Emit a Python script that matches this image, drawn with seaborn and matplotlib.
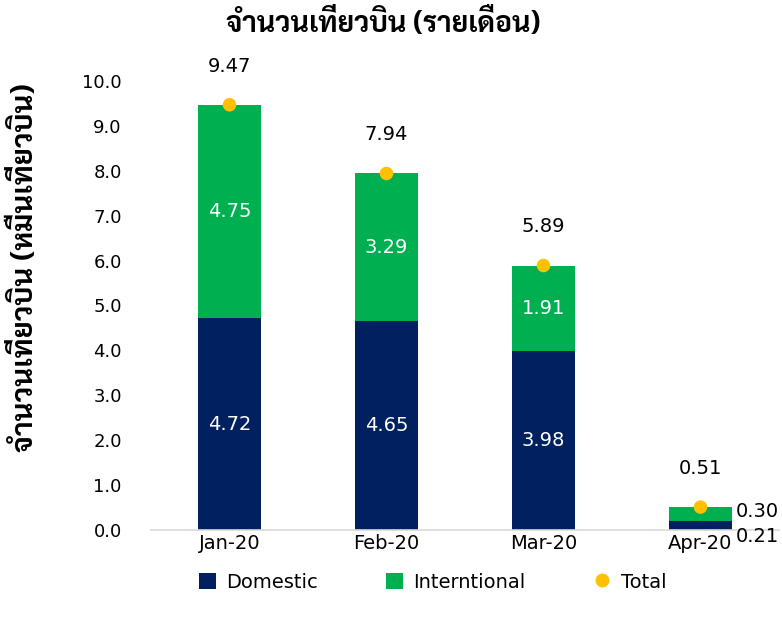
import matplotlib
matplotlib.use("Agg")
import matplotlib.pyplot as plt
import seaborn as sns
import pandas as pd
from matplotlib.lines import Line2D
from matplotlib.patches import Patch

months = ["Jan-20", "Feb-20", "Mar-20", "Apr-20"]
domestic = [4.72, 4.65, 3.98, 0.21]
international = [4.75, 3.29, 1.91, 0.30]
total = [9.47, 7.94, 5.89, 0.51]
yticks = [0, 1, 2, 3, 4, 5, 6, 7, 8, 9, 10]

title = "จำนวนเที่ยวบิน (รายเดือน)"
ylabel = "จำนวนเที่ยวบิน (หมื่นเที่ยวบิน)"
legend_labels = ["Domestic", "Interntional", "Total"]

NAVY = "#002060"
GREEN = "#00b050"
GOLD = "#ffc000"

sns.set_theme(style="white")
FAM = ["DejaVu Sans", "Sarabun"]
THAI = ["Sarabun", "DejaVu Sans"]
plt.rcParams["font.family"] = FAM
plt.rcParams["text.color"] = "black"
plt.rcParams["axes.labelcolor"] = "black"

df = pd.DataFrame({"month": months, "dom": domestic, "intl": international, "total": total})
df["stack"] = df["dom"] + df["intl"]

fig = plt.figure(figsize=(7.82, 6.22), dpi=100)
ax = fig.add_axes([0.1931, 0.1479, 0.8031, 0.7219])

sns.barplot(data=df, x="month", y="stack", color=GREEN, width=0.4, ax=ax,
            saturation=1, edgecolor="none")
sns.barplot(data=df, x="month", y="dom", color=NAVY, width=0.4, ax=ax,
            saturation=1, edgecolor="none")
sns.scatterplot(data=df, x="month", y="total", color=GOLD, s=95, ax=ax,
                edgecolor="none", zorder=5)

ax.set_xlim(-0.5, 3.5)
ax.set_ylim(0, 10)
ax.set_yticks(yticks)
ax.set_yticklabels([f"{v:.1f}" for v in yticks])
ax.tick_params(axis="both", length=0, colors="black")
ax.tick_params(axis="y", pad=21, labelsize=13)
ax.tick_params(axis="x", pad=3, labelsize=14)
for s in ["top", "right", "left"]:
    ax.spines[s].set_visible(False)
ax.spines["bottom"].set_color("#d9d9d9")
ax.spines["bottom"].set_linewidth(1.2)
ax.set_xlabel("")
ax.set_ylabel(ylabel, fontsize=21, fontweight="bold", family=THAI)
ax.yaxis.set_label_coords(-0.177, 0.584)

for i in range(len(months)):
    d, n, t = domestic[i], international[i], total[i]
    ax.text(i, t + 0.65, f"{t:.2f}", ha="center", va="bottom", fontsize=14, color="black")
    if i < 3:
        ax.text(i, d / 2, f"{d:.2f}", ha="center", va="center", fontsize=14, color="white")
        ax.text(i, d + n / 2, f"{n:.2f}", ha="center", va="center", fontsize=14, color="white")
    else:
        ax.text(i + 0.36, d + n / 2 + 0.05, f"{n:.2f}", ha="center", va="center", fontsize=14, color="black")
        ax.text(i + 0.36, -0.15, f"{d:.2f}", ha="center", va="center", fontsize=14, color="black")

fig.text(0.49, 0.962, title, ha="center", va="center", fontsize=20.5, fontweight="bold", family=THAI)

handles = [
    Patch(facecolor=NAVY, edgecolor="none"),
    Patch(facecolor=GREEN, edgecolor="none"),
    Line2D([], [], marker="o", linestyle="none", color=GOLD, markersize=10, markeredgewidth=0),
]
leg = fig.legend(handles, legend_labels, loc="center", bbox_to_anchor=(0.553, 0.064), ncol=3,
                 frameon=False, fontsize=14, handlelength=0.9, handleheight=0.9,
                 handletextpad=0.5, columnspacing=3.5)
for t in leg.get_texts():
    t.set_color("black")

fig.savefig("out.png", dpi=100)
